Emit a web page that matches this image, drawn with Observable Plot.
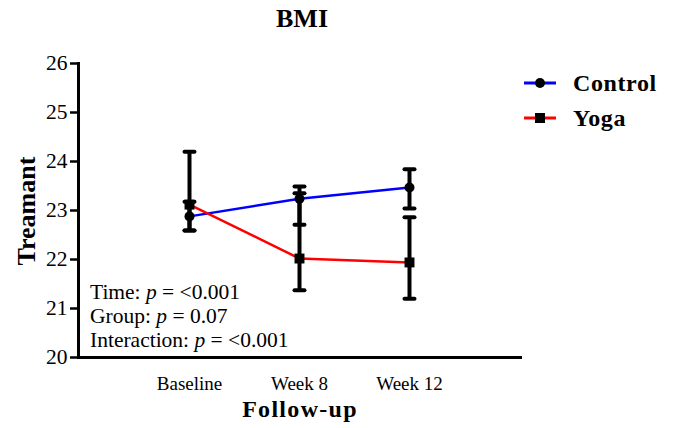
<!DOCTYPE html>
<html>
<head>
<meta charset="utf-8">
<script src="https://cdn.jsdelivr.net/npm/d3@7"></script>
<script src="https://cdn.jsdelivr.net/npm/@observablehq/plot@0.6"></script>
<style>
  html, body { margin: 0; padding: 0; background: #fff; }
  #wrap { position: relative; width: 675px; height: 428px; font-family: "Liberation Serif", "Times New Roman", serif; color: #000; }
  #wrap svg { position: absolute; left: 0; top: 0; }
  #wrap svg g[aria-label="y-axis tick label"], #wrap svg g[aria-label="y-axis tick label"] text { font-size: 21.5px; }
  .abs { position: absolute; white-space: nowrap; line-height: 1; }
</style>
</head>
<body>
<div id="wrap"></div>
<script>
const categories = ["Baseline", "Week 8", "Week 12"];
const seriesNames = ["Control", "Yoga"];
const seriesColors = ["#0000ff", "#ff0000"];
const controlMean = [22.88, 23.24, 23.47];
const controlLo = [22.59, 22.71, 23.04];
const controlHi = [23.18, 23.49, 23.84];
const yogaMean = [23.12, 22.02, 21.94];
const yogaLo = [22.59, 21.37, 21.20];
const yogaHi = [24.20, 23.35, 22.86];
const yTicks = [20, 21, 22, 23, 24, 25, 26];
const statLines = [["Time:", "= <0.001"], ["Group:", "= 0.07"], ["Interaction:", "= <0.001"]];

const rows = [];
categories.forEach((c, i) => {
  rows.push({series: "Control", time: c, mean: controlMean[i], lo: controlLo[i], hi: controlHi[i]});
  rows.push({series: "Yoga", time: c, mean: yogaMean[i], lo: yogaLo[i], hi: yogaHi[i]});
});
const caps = rows.flatMap(d => [{time: d.time, y: d.lo}, {time: d.time, y: d.hi}]);
const capSymbol = {draw(ctx) { ctx.moveTo(-5, 0); ctx.lineTo(5, 0); }};

const chart = Plot.plot({
  width: 675,
  height: 428,
  marginLeft: 78,
  marginRight: 155,
  marginTop: 63,
  marginBottom: 71,
  style: {fontFamily: "Liberation Serif", fontSize: "19px", color: "#000", background: "transparent"},
  x: {type: "point", domain: categories, padding: 1, label: null},
  y: {domain: [20, 26], label: null},
  color: {domain: seriesNames, range: seriesColors},
  marks: [
    Plot.axisY({ticks: yTicks, tickFormat: d => String(d), tickSize: 8, tickPadding: 3, strokeWidth: 2.5, label: null, fontSize: 21.5}),
    Plot.axisX({tickSize: 0, tickPadding: 19, label: null, fontSize: 19}),
    Plot.frame({anchor: "left", strokeWidth: 3, stroke: "#000"}),
    Plot.frame({anchor: "bottom", strokeWidth: 3, stroke: "#000"}),
    Plot.line(rows, {x: "time", y: "mean", z: "series", stroke: "series", strokeWidth: 2.5}),
    Plot.ruleX(rows, {x: "time", y1: "lo", y2: "hi", stroke: "#000", strokeWidth: 4}),
    Plot.dot(caps, {x: "time", y: "y", symbol: capSymbol, fill: "none", stroke: "#000", strokeWidth: 4, strokeLinecap: "round"}),
    Plot.dot(rows.filter(d => d.series === "Control"), {x: "time", y: "mean", r: 5, fill: "#000", stroke: "none", symbol: "circle"}),
    Plot.dot(rows.filter(d => d.series === "Yoga"), {x: "time", y: "mean", r: 5.6, fill: "#000", stroke: "none", symbol: "square"})
  ]
});

const wrap = document.getElementById("wrap");
wrap.appendChild(chart);

function addDiv(html, css) {
  const d = document.createElement("div");
  d.className = "abs";
  d.innerHTML = html;
  Object.assign(d.style, css);
  wrap.appendChild(d);
  return d;
}

// Title
addDiv("BMI", {left: "0px", width: "604px", textAlign: "center", top: "6px", fontSize: "26px", fontWeight: "bold"});
// X label
addDiv("Follow-up", {left: "0px", width: "600px", textAlign: "center", top: "397px", fontSize: "24px", fontWeight: "bold", letterSpacing: "1.3px"});
// Y label
addDiv("Treamant", {left: "27px", top: "211px", fontSize: "26px", fontWeight: "bold", transform: "translate(-50%, -50%) rotate(-90deg)"});

// Stats annotation
statLines.forEach((s, i) => {
  addDiv(s[0] + " <i>p</i> " + s[1], {left: "90px", top: (282 + i * 24) + "px", fontSize: "21.5px"});
});

// Legend
seriesNames.forEach((name, i) => {
  const y = 83 + i * 35;
  const sym = i === 0
    ? '<circle cx="16" cy="8" r="5" fill="#000"/>'
    : '<rect x="11" y="3" width="10" height="10" fill="#000"/>';
  addDiv('<svg width="32" height="16" style="display:block"><line x1="0" x2="32" y1="8" y2="8" stroke="' + seriesColors[i] + '" stroke-width="3"/>' + sym + '</svg>',
    {left: "524px", top: (y - 8) + "px"});
  addDiv(name, {left: "573px", top: (y - 12) + "px", fontSize: "24px", fontWeight: "bold", letterSpacing: "0.6px"});
});
</script>
</body>
</html>
